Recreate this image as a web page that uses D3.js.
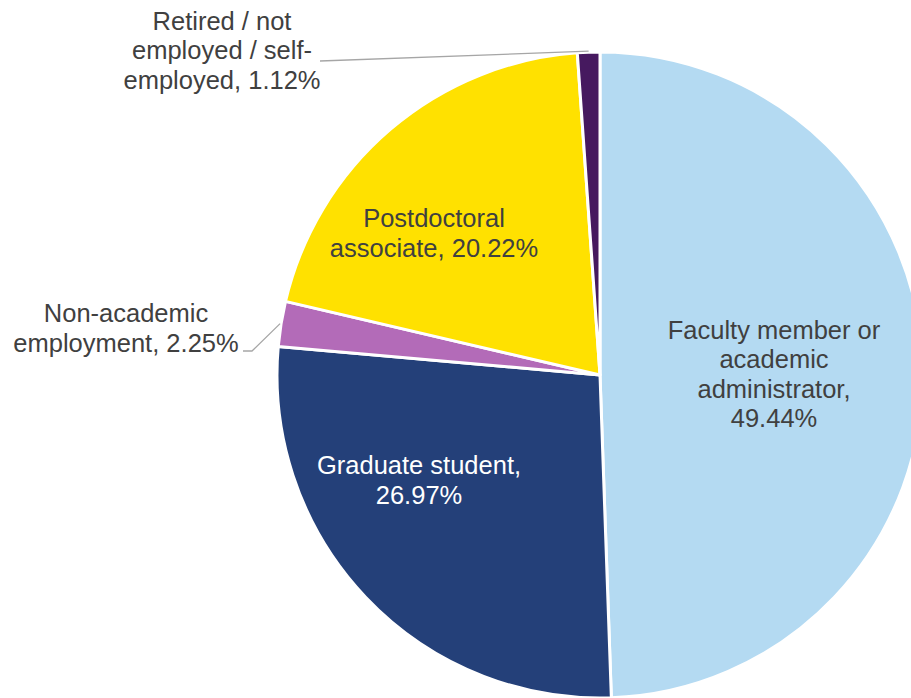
<!DOCTYPE html>
<html>
<head>
<meta charset="utf-8">
<script src="https://cdn.jsdelivr.net/npm/d3@7"></script>
<style>
  html, body { margin: 0; padding: 0; background: #fff; }
  svg { display: block; }
  text { font-family: "Liberation Sans", Arial, sans-serif; }
</style>
</head>
<body>
<svg id="chart" width="911" height="698"></svg>
<script>
// ---- data ----
const categories = [
  "Faculty member or academic administrator",
  "Graduate student",
  "Non-academic employment",
  "Postdoctoral associate",
  "Retired / not employed / self-employed"
];
const values = [49.44, 26.97, 2.25, 20.22, 1.12];
const labelLines = [
  ["Faculty member or", "academic", "administrator,", "49.44%"],
  ["Graduate student,", "26.97%"],
  ["Non-academic", "employment, 2.25%"],
  ["Postdoctoral", "associate, 20.22%"],
  ["Retired / not", "employed / self-", "employed, 1.12%"]
];
const colors = ["#B4DAF2", "#244079", "#B36BB8", "#FFE100", "#46195F"];

// ---- layout ----
const W = 911, H = 698;
const cx = 600, cy = 375, R = 323;
const fontSize = 25.5, lineH = 29.5;
// label block centres relative to pie centre, text colours, optional leaders
const labelLayout = [
  { dx: 174, dy: -1, fill: "#404040" },
  { dx: -181, dy: 105, fill: "#ffffff" },
  { dx: -474, dy: -47, fill: "#404040", leader: [[-357, -24], [-348, -24]] },
  { dx: -166, dy: -142, fill: "#404040" },
  { dx: -378, dy: -325, fill: "#404040", leader: [[-280, -314]] }
];

const svg = d3.select("#chart");
const g = svg.append("g").attr("transform", `translate(${cx},${cy})`);

const pie = d3.pie().sort(null).value(d => d).startAngle(0).endAngle(2 * Math.PI);
const arcs = pie(values);
const arc = d3.arc().innerRadius(0).outerRadius(R);

g.selectAll("path.slice")
  .data(arcs)
  .join("path")
  .attr("class", "slice")
  .attr("d", arc)
  .attr("fill", (d, i) => colors[i])
  .attr("stroke", "#ffffff")
  .attr("stroke-width", 3)
  .attr("stroke-linejoin", "round");

// leader lines
arcs.forEach((a, i) => {
  const L = labelLayout[i];
  if (!L.leader) return;
  const mid = (a.startAngle + a.endAngle) / 2;
  const end = [Math.sin(mid) * (R + 1), -Math.cos(mid) * (R + 1)];
  const pts = L.leader.concat([end]);
  g.append("path")
    .attr("d", d3.line()(pts))
    .attr("fill", "none")
    .attr("stroke", "#A6A6A6")
    .attr("stroke-width", 1.3);
});

// labels
arcs.forEach((a, i) => {
  const L = labelLayout[i];
  const lines = labelLines[i];
  const n = lines.length;
  const t = g.append("text")
    .attr("text-anchor", "middle")
    .attr("font-size", fontSize)
    .attr("fill", L.fill);
  lines.forEach((s, k) => {
    t.append("tspan")
      .attr("x", L.dx)
      .attr("y", L.dy + (k - (n - 1) / 2) * lineH + fontSize * 0.36)
      .text(s);
  });
});
</script>
</body>
</html>
